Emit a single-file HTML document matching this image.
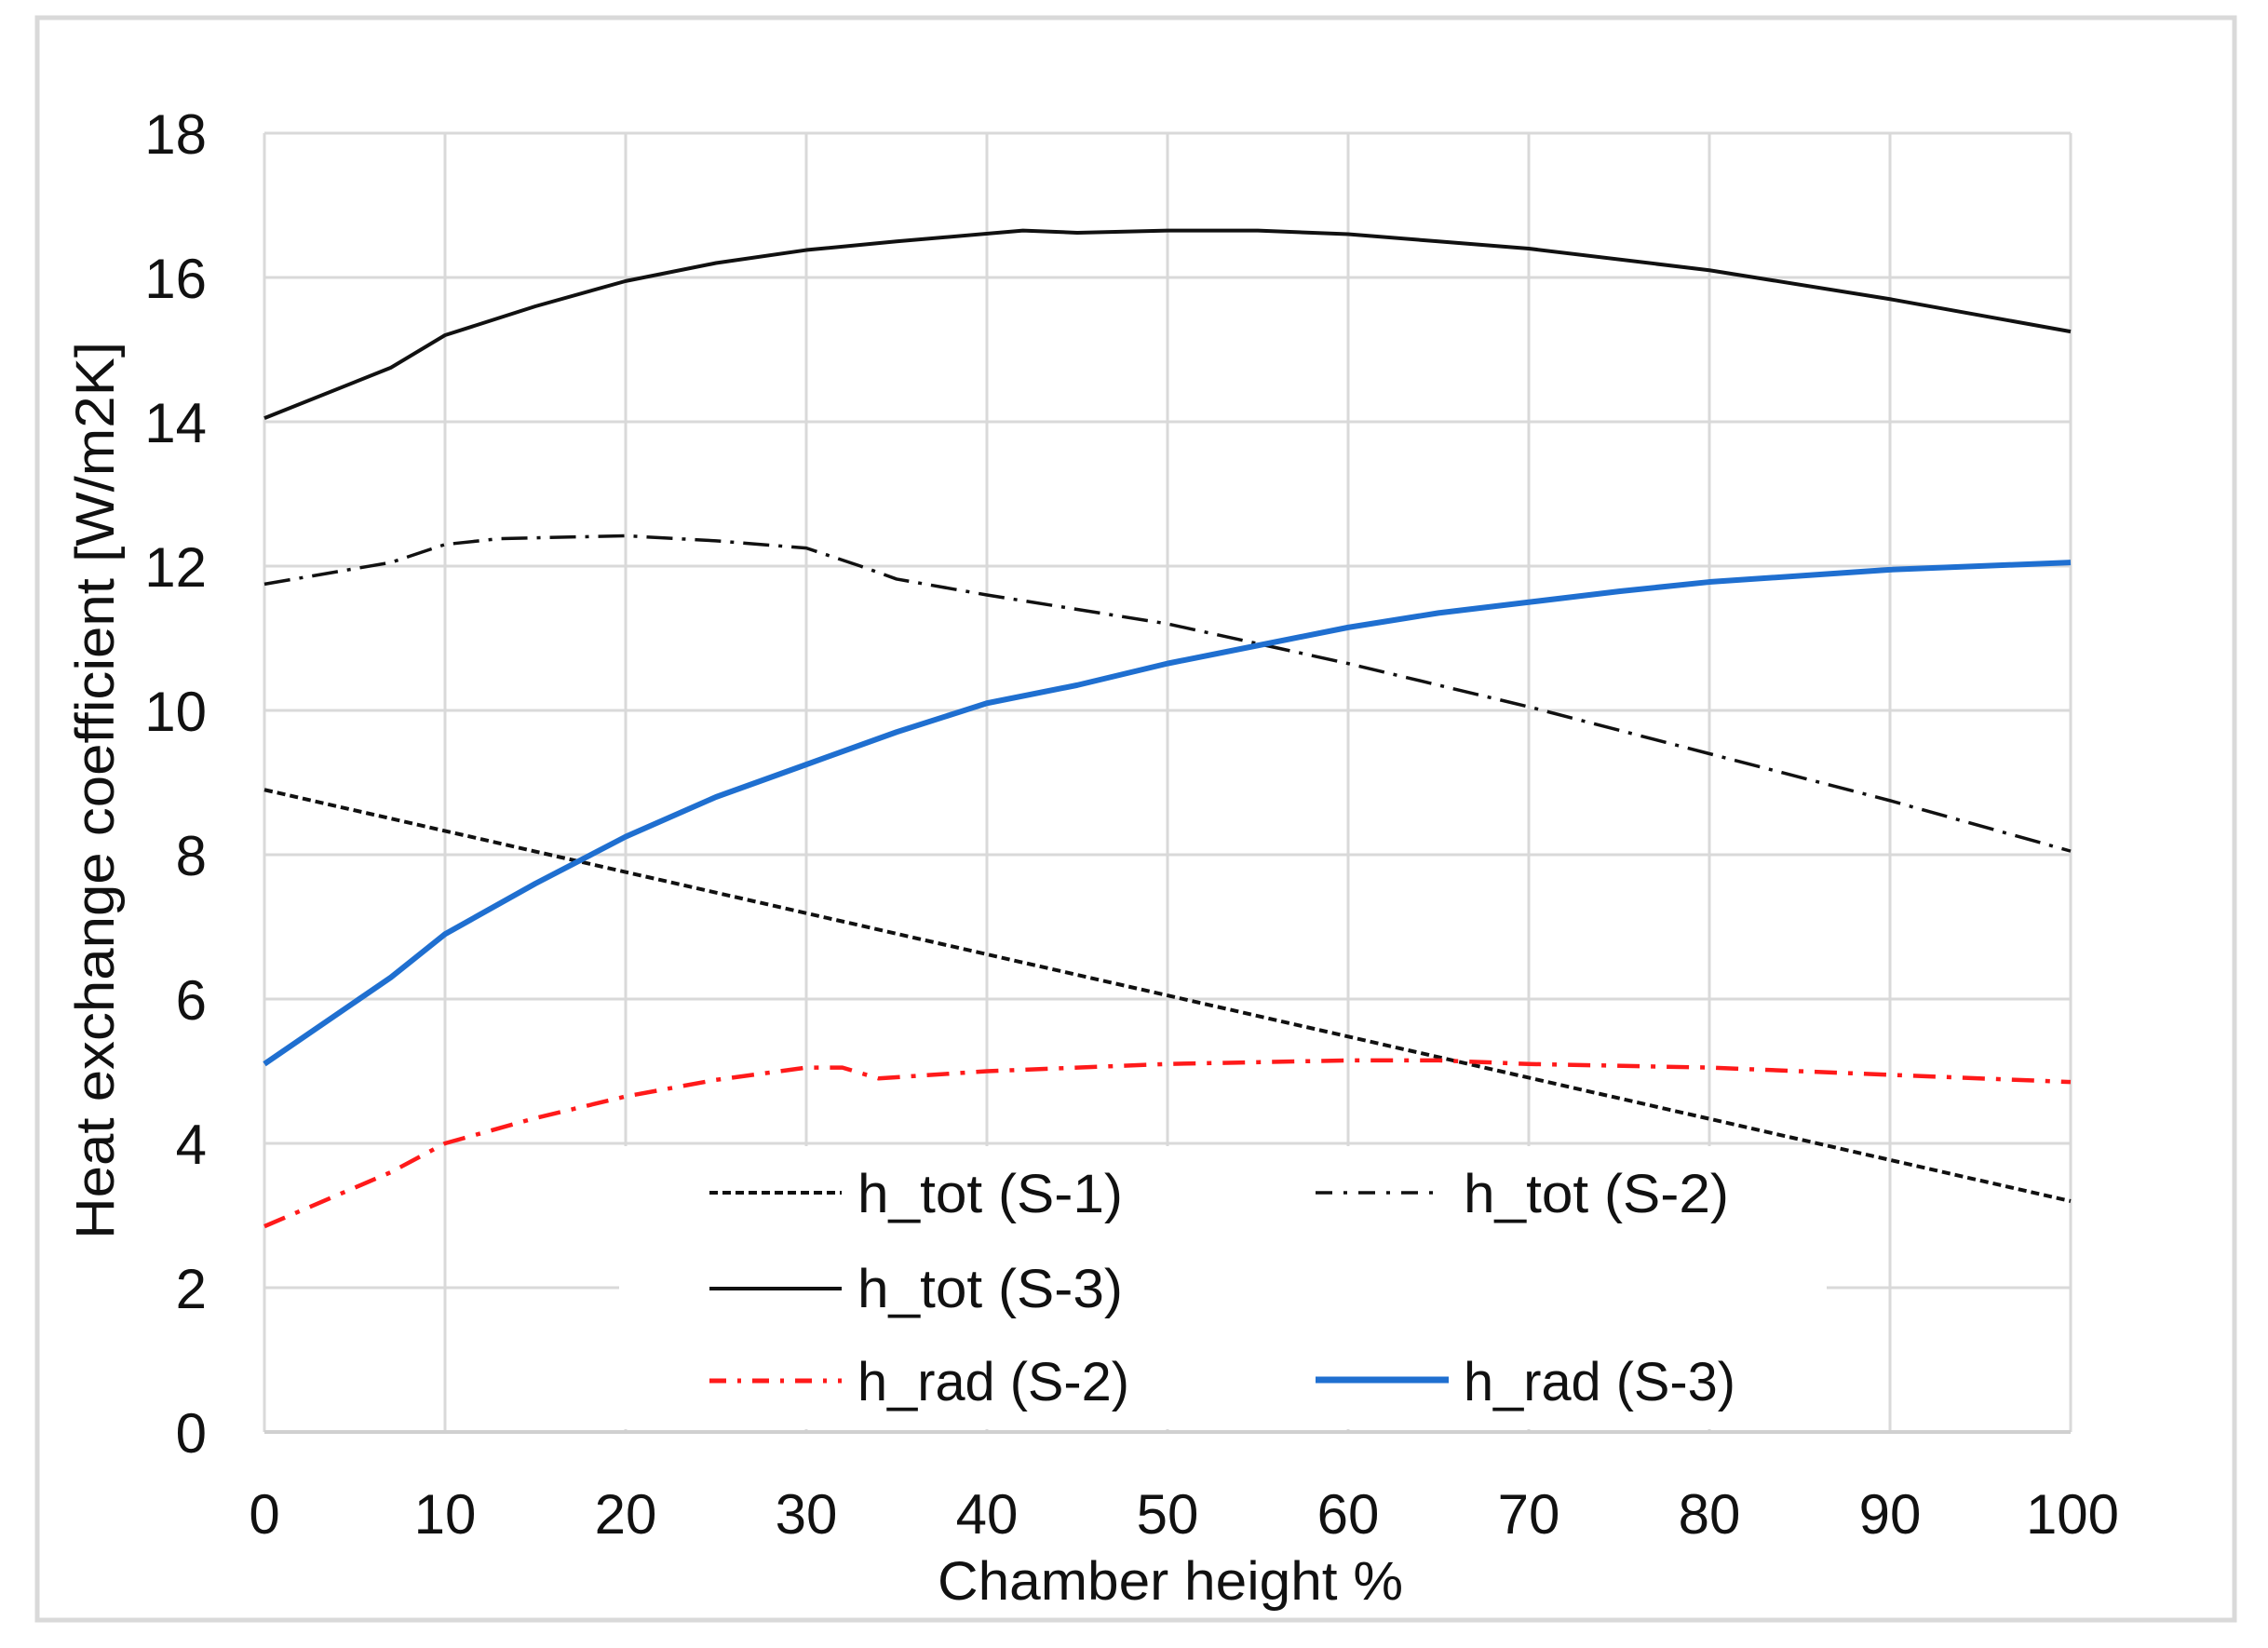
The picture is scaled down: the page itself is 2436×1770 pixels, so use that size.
<!DOCTYPE html>
<html><head><meta charset="utf-8"><style>
html,body{margin:0;padding:0;background:#fff}
svg{display:block}
text{font-family:"Liberation Sans",sans-serif;fill:#111}
</style></head><body>
<svg width="2436" height="1770" viewBox="0 0 2436 1770" xmlns="http://www.w3.org/2000/svg">
<rect x="0" y="0" width="2436" height="1770" fill="#fff"/>
<rect x="40" y="19" width="2360" height="1721" fill="none" stroke="#d9d9d9" stroke-width="5"/>
<!-- grid -->
<g stroke="#d9d9d9" stroke-width="3">
<line x1="284" y1="143" x2="2224" y2="143"/>
<line x1="284" y1="298" x2="2224" y2="298"/>
<line x1="284" y1="453" x2="2224" y2="453"/>
<line x1="284" y1="608" x2="2224" y2="608"/>
<line x1="284" y1="763" x2="2224" y2="763"/>
<line x1="284" y1="918" x2="2224" y2="918"/>
<line x1="284" y1="1073" x2="2224" y2="1073"/>
<line x1="284" y1="1228" x2="2224" y2="1228"/>
<line x1="284" y1="1383" x2="2224" y2="1383"/>
<line x1="478" y1="143" x2="478" y2="1538"/>
<line x1="672" y1="143" x2="672" y2="1538"/>
<line x1="866" y1="143" x2="866" y2="1538"/>
<line x1="1060" y1="143" x2="1060" y2="1538"/>
<line x1="1254" y1="143" x2="1254" y2="1538"/>
<line x1="1448" y1="143" x2="1448" y2="1538"/>
<line x1="1642" y1="143" x2="1642" y2="1538"/>
<line x1="1836" y1="143" x2="1836" y2="1538"/>
<line x1="2030" y1="143" x2="2030" y2="1538"/>
<line x1="2224" y1="143" x2="2224" y2="1538"/>
<line x1="284" y1="143" x2="284" y2="1538"/>
</g>
<!-- legend bg -->
<rect x="665" y="1231" width="1297" height="304" fill="#fff"/>
<line x1="284" y1="1538" x2="2224" y2="1538" stroke="#d0d0d0" stroke-width="4"/>
<!-- series -->
<g transform="translate(284,1538) scale(19.4,-77.5)" fill="none" stroke-linejoin="round">
<polyline vector-effect="non-scaling-stroke" stroke="#111" stroke-width="4" stroke-dasharray="9,5" points="0,8.9 100,3.2"/>
<polyline vector-effect="non-scaling-stroke" stroke="#111" stroke-width="3.5" stroke-dasharray="28,10,4,10" points="0,11.75 7,12.05 10,12.3 13,12.38 20,12.42 25,12.35 30,12.25 33,12.0 35,11.82 40,11.6 50,11.2 60,10.65 70,10.05 80,9.4 90,8.75 100,8.05"/>
<polyline vector-effect="non-scaling-stroke" stroke="#111" stroke-width="4" points="0,14.05 7,14.75 10,15.2 15,15.6 20,15.95 25,16.2 30,16.38 35,16.5 42,16.65 45,16.62 50,16.65 55,16.65 60,16.6 65,16.5 70,16.4 80,16.1 90,15.7 100,15.25"/>
<polyline vector-effect="non-scaling-stroke" stroke="#ff1a1a" stroke-width="4.5" stroke-dasharray="24,12,5,12" points="0,2.85 7,3.6 10,4.0 15,4.35 20,4.65 25,4.88 30,5.05 32,5.05 34,4.9 40,5.0 50,5.1 60,5.15 65,5.15 70,5.1 80,5.05 90,4.95 100,4.85"/>
<polyline vector-effect="non-scaling-stroke" stroke="#1f6fd0" stroke-width="6" points="0,5.1 7,6.3 10,6.9 15,7.6 20,8.25 25,8.8 30,9.25 35,9.7 40,10.1 45,10.35 50,10.65 55,10.9 60,11.15 65,11.35 70,11.5 75,11.65 80,11.78 90,11.95 100,12.05"/>
</g>
<!-- legend -->
<g>
<line x1="762" y1="1281" x2="904" y2="1281" stroke="#111" stroke-width="4" stroke-dasharray="9,5"/>
<line x1="1413" y1="1281" x2="1551" y2="1281" stroke="#111" stroke-width="3.5" stroke-dasharray="18,12,4,12"/>
<line x1="762" y1="1384" x2="904" y2="1384" stroke="#111" stroke-width="4"/>
<line x1="762" y1="1483" x2="904" y2="1483" stroke="#ff1a1a" stroke-width="5" stroke-dasharray="18,12,4,12"/>
<line x1="1413" y1="1482" x2="1556" y2="1482" stroke="#1f6fd0" stroke-width="7"/>
<g font-size="58">
<text x="921" y="1302" textLength="285" lengthAdjust="spacingAndGlyphs">h_tot (S-1)</text>
<text x="1572" y="1302" textLength="285" lengthAdjust="spacingAndGlyphs">h_tot (S-2)</text>
<text x="921" y="1404" textLength="285" lengthAdjust="spacingAndGlyphs">h_tot (S-3)</text>
<text x="921" y="1504" textLength="292" lengthAdjust="spacingAndGlyphs">h_rad (S-2)</text>
<text x="1572" y="1504" textLength="292" lengthAdjust="spacingAndGlyphs">h_rad (S-3)</text>
</g>
</g>
<!-- y tick labels -->
<g font-size="60" text-anchor="end">
<text x="222" y="165">18</text>
<text x="222" y="320">16</text>
<text x="222" y="475">14</text>
<text x="222" y="630">12</text>
<text x="222" y="785">10</text>
<text x="222" y="940">8</text>
<text x="222" y="1095">6</text>
<text x="222" y="1250">4</text>
<text x="222" y="1405">2</text>
<text x="222" y="1560">0</text>
</g>
<!-- x tick labels -->
<g font-size="60" text-anchor="middle">
<text x="284" y="1647">0</text>
<text x="478" y="1647">10</text>
<text x="672" y="1647">20</text>
<text x="866" y="1647">30</text>
<text x="1060" y="1647">40</text>
<text x="1254" y="1647">50</text>
<text x="1448" y="1647">60</text>
<text x="1642" y="1647">70</text>
<text x="1836" y="1647">80</text>
<text x="2030" y="1647">90</text>
<text x="2226" y="1647">100</text>
</g>
<text x="1257" y="1718" font-size="58" text-anchor="middle" textLength="500" lengthAdjust="spacingAndGlyphs">Chamber height %</text>
<text transform="translate(122,849) rotate(-90)" font-size="58" text-anchor="middle" textLength="964" lengthAdjust="spacingAndGlyphs">Heat exchange coefficient [W/m2K]</text>
</svg>
</body></html>
